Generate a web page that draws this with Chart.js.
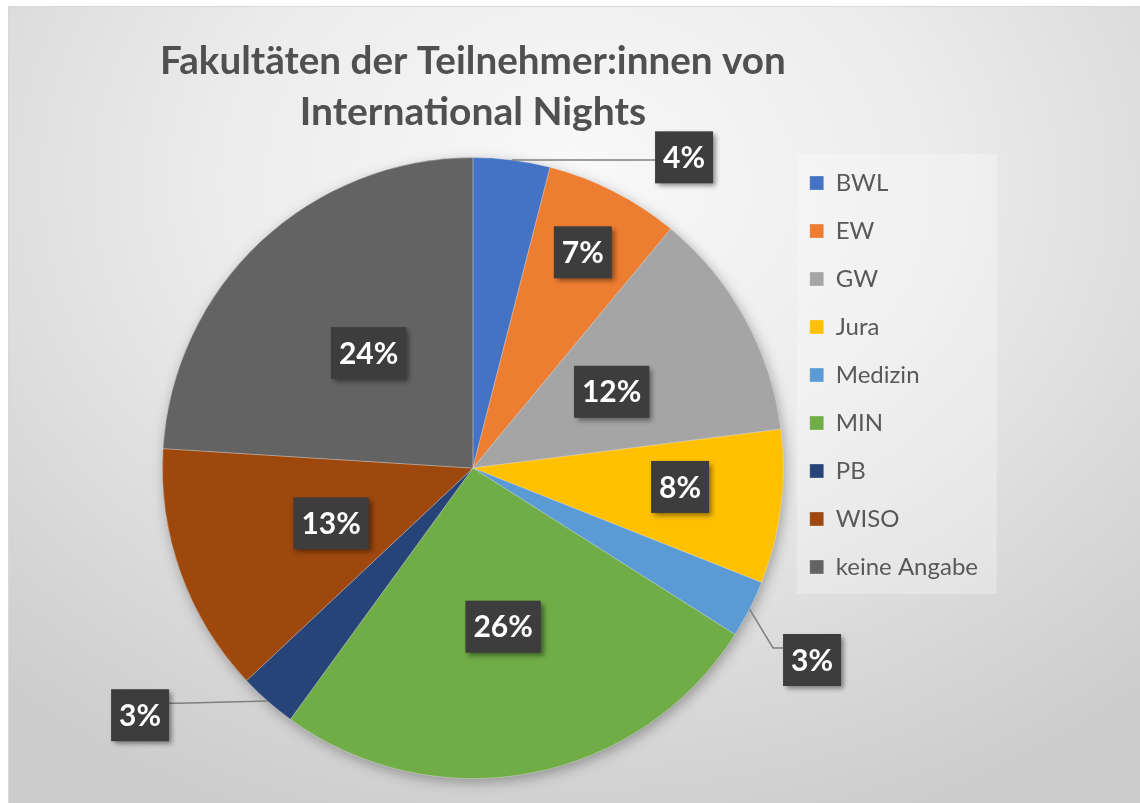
<!DOCTYPE html>
<html>
<head>
<meta charset="utf-8">
<script src="https://cdn.jsdelivr.net/npm/chart.js@4"></script>
<style>
  html, body { margin: 0; padding: 0; background: #fff; }
  #wrap { position: relative; width: 1140px; height: 803px; overflow: hidden; background: #fff; }
  #bg {
    position: absolute; left: 8px; top: 6px; right: 0; bottom: 0;
    background: radial-gradient(ellipse 75% 85% at 50% 22%, #f9f9f9 0%, #ececec 42%, #d3d3d3 88%, #cdcdcd 100%);
    border-top: 1px solid #d8d8d8; border-left: 1px solid #d8d8d8;
  }
  #chart { position: absolute; left: 0; top: 0; }
</style>
</head>
<body>
<div id="wrap">
  <div id="bg"></div>
  <canvas id="chart" width="1140" height="803"></canvas>
</div>
<script>
// Data
const categories = ['BWL', 'EW', 'GW', 'Jura', 'Medizin', 'MIN', 'PB', 'WISO', 'keine Angabe'];
const shares = [4, 7, 12, 8, 3, 26, 3, 13, 24];
const sliceColors = ['#4472C4', '#ED7D31', '#A5A5A5', '#FFC000', '#5B9BD5', '#70AD47', '#264478', '#9E480E', '#636363'];
const chartTitle = ['Fakultäten der Teilnehmer:innen von', 'International Nights'];

// label placement: radius as fraction of the pie radius, angle shift in degrees from slice middle
const labelPlace = [
  { r: 1.21, shift: 27 }, { r: 0.78, shift: 0 }, { r: 0.51, shift: 0 },
  { r: 0.67, shift: -2 }, { r: 1.255, shift: 2.5 }, { r: 0.52, shift: 0 },
  { r: 1.335, shift: 12 }, { r: 0.49, shift: -1.5 }, { r: 0.50, shift: 1 }
];

const FONT = 'Lato, "Open Sans", "DejaVu Sans", sans-serif';

// soft shadow under the pie
const pieShadow = {
  id: 'pieShadow',
  beforeDatasetsDraw(chart) {
    const arc = chart.getDatasetMeta(0).data[0];
    if (!arc) return;
    const { x, y, outerRadius } = arc.getProps(['x', 'y', 'outerRadius'], true);
    const ctx = chart.ctx;
    ctx.save();
    ctx.shadowColor = 'rgba(0,0,0,0.35)';
    ctx.shadowBlur = 14;
    ctx.shadowOffsetX = 2;
    ctx.shadowOffsetY = 4;
    ctx.fillStyle = '#888';
    ctx.beginPath();
    ctx.arc(x, y, outerRadius - 1, 0, Math.PI * 2);
    ctx.fill();
    ctx.restore();
  }
};

// light panel behind the legend
const legendPanel = {
  id: 'legendPanel',
  beforeDraw(chart) {
    const hb = chart.legend && chart.legend.legendHitBoxes;
    if (!hb || !hb.length) return;
    const first = hb[0], last = hb[hb.length - 1];
    const ctx = chart.ctx;
    ctx.save();
    ctx.fillStyle = 'rgba(255,255,255,0.28)';
    const left = first.left - 13;
    const top = first.top - 17;
    ctx.fillRect(left, top, 200, last.top + last.height + 15 - top);
    ctx.restore();
  }
};

// Excel-like percentage data labels with dark boxes
const pctLabels = {
  id: 'pctLabels',
  afterDatasetsDraw(chart) {
    const ctx = chart.ctx;
    const meta = chart.getDatasetMeta(0);
    const vals = chart.data.datasets[0].data;
    const total = vals.reduce((a, b) => a + b, 0);
    ctx.save();
    ctx.font = 'bold 30px ' + FONT;
    meta.data.forEach((arc, i) => {
      const p = arc.getProps(['x', 'y', 'startAngle', 'endAngle', 'outerRadius'], true);
      const place = labelPlace[i];
      const mid = (p.startAngle + p.endAngle) / 2;
      const a = mid + place.shift * Math.PI / 180;
      const cx = p.x + Math.cos(a) * place.r * p.outerRadius;
      const cy = p.y + Math.sin(a) * place.r * p.outerRadius;
      const text = Math.round(vals[i] / total * 100) + '%';
      const w = ctx.measureText(text).width + 16;
      const h = 52;
      const bx = cx - w / 2, by = cy - h / 2;

      if (place.r > 1) {
        // leader line from the slice edge to the box
        const sx = p.x + Math.cos(mid) * p.outerRadius;
        const sy = p.y + Math.sin(mid) * p.outerRadius;
        const ex = sx < bx ? bx : bx + w;
        const ey = Math.min(Math.max(sy, by + 14), by + h - 14);
        ctx.strokeStyle = '#7f7f7f';
        ctx.lineWidth = 1.5;
        ctx.beginPath();
        ctx.moveTo(sx, sy);
        ctx.lineTo(ex + (sx < bx ? -10 : 10), ey);
        ctx.lineTo(ex, ey);
        ctx.stroke();
      }

      ctx.save();
      ctx.shadowColor = 'rgba(0,0,0,0.45)';
      ctx.shadowBlur = 5;
      ctx.shadowOffsetX = 3;
      ctx.shadowOffsetY = 3;
      ctx.fillStyle = '#3d3d3d';
      ctx.fillRect(bx, by, w, h);
      ctx.restore();

      ctx.fillStyle = '#ffffff';
      ctx.textAlign = 'center';
      ctx.textBaseline = 'middle';
      ctx.fillText(text, cx, cy + 1);
    });
    ctx.restore();
  }
};

new Chart(document.getElementById('chart'), {
  type: 'pie',
  data: {
    labels: categories,
    datasets: [{
      data: shares,
      backgroundColor: sliceColors,
      borderColor: 'rgba(255,255,255,0.35)',
      borderWidth: 0.8
    }]
  },
  options: {
    responsive: false,
    animation: false,
    events: [],
    layout: { padding: { left: 160, right: 152, top: 0, bottom: 24 } },
    plugins: {
      title: {
        display: true,
        fullSize: false,
        text: chartTitle,
        color: '#505050',
        font: { family: FONT, size: 39, weight: 'bold', lineHeight: 1.31 },
        padding: { top: 36, bottom: 19 }
      },
      legend: {
        position: 'right',
        fullSize: true,
        align: 'start',
        title: {
          display: true,
          text: '',
          font: { size: 10, lineHeight: 1 },
          padding: { top: 137, bottom: 0 }
        },
        labels: {
          color: '#595959',
          font: { family: FONT, size: 24 },
          boxWidth: 14,
          boxHeight: 14,
          padding: 24
        }
      },
      tooltip: { enabled: false }
    }
  },
  plugins: [pieShadow, legendPanel, pctLabels]
});
</script>
</body>
</html>
